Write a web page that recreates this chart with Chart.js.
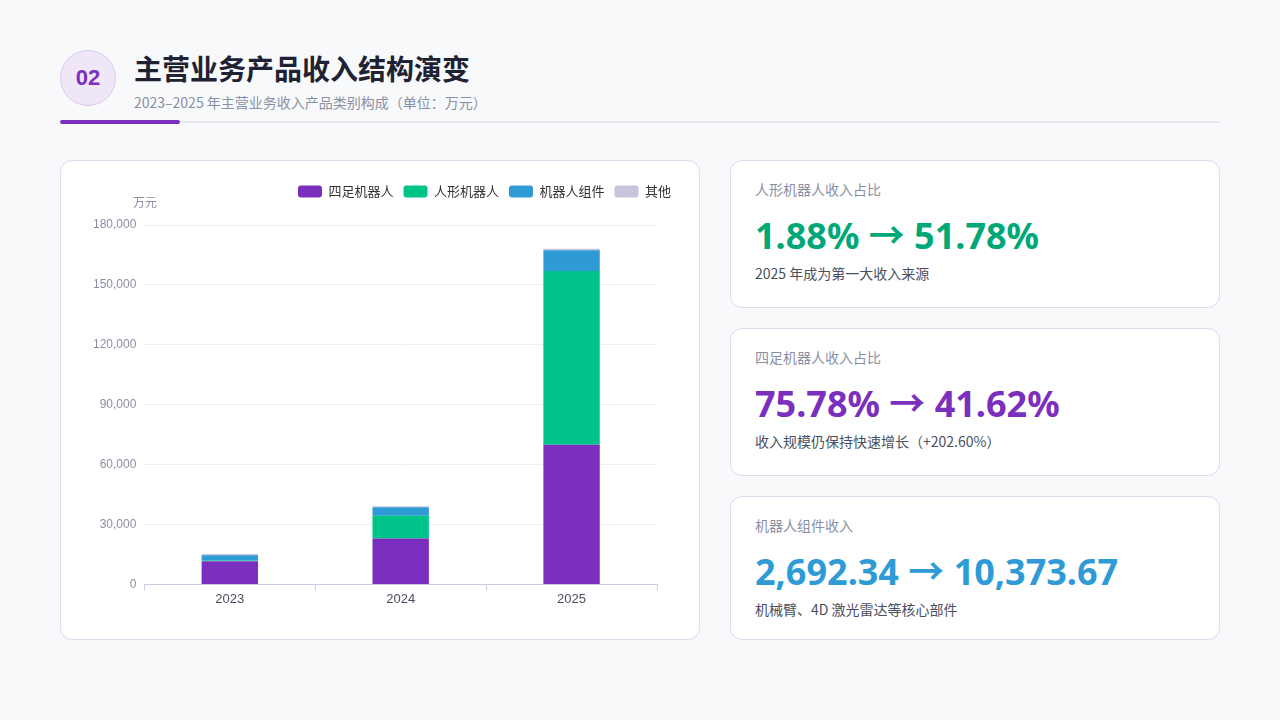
<!DOCTYPE html>
<html><head><meta charset="utf-8">
<script src="https://cdn.jsdelivr.net/npm/chart.js@4"></script>
<style>
body{margin:0;width:1280px;height:720px;background:#f8f9fb;font-family:"Noto Sans CJK SC","Noto Sans",sans-serif;position:relative;overflow:hidden}
.badge{position:absolute;left:60px;top:50px;width:56px;height:56px;border-radius:50%;background:#efe6f8;border:1px solid #dccbef;color:#7b2fbe;font-weight:700;font-size:22px;display:flex;align-items:center;justify-content:center;box-sizing:border-box;font-family:"Liberation Sans",sans-serif}
h1{position:absolute;left:134px;top:48px;margin:0;font-size:28px;color:#1f2233;font-weight:700}
.sub{position:absolute;left:134px;top:92px;font-size:14px;color:#8a8fa3}
.line{position:absolute;left:60px;top:121px;width:1160px;height:2px;background:#e6e7ee}
.line2{position:absolute;left:60px;top:120px;width:120px;height:4px;border-radius:2px;background:#7b2fbe}
.card{position:absolute;background:#fff;border:1px solid #dcdcec;border-radius:12px;box-sizing:border-box}
.k .t{position:absolute;left:24px;top:18px;font-size:14px;color:#8a8fa3}
.k .v{position:absolute;left:24px;top:46px;font-size:36px;font-weight:700;font-family:"Noto Sans","Noto Sans CJK SC",sans-serif}
.k .d{position:absolute;left:24px;top:102px;font-size:14px;color:#4a4f60}
</style></head><body>
<div class="badge">02</div>
<h1>主营业务产品收入结构演变</h1>
<div class="sub">2023–2025 年主营业务收入产品类别构成（单位：万元）</div>
<div class="line"></div><div class="line2"></div>
<div class="card" style="left:60px;top:160px;width:640px;height:480px">
  <canvas id="c" width="638" height="478" style="position:absolute;left:0;top:0"></canvas>
</div>
<div class="card k" style="left:730px;top:160px;width:490px;height:148px"><div class="t">人形机器人收入占比</div><div class="v" style="color:#00a878">1.88% → 51.78%</div><div class="d">2025 年成为第一大收入来源</div></div>
<div class="card k" style="left:730px;top:328px;width:490px;height:148px"><div class="t">四足机器人收入占比</div><div class="v" style="color:#7b2fbe">75.78% → 41.62%</div><div class="d">收入规模仍保持快速增长（+202.60%）</div></div>
<div class="card k" style="left:730px;top:496px;width:490px;height:144px"><div class="t">机器人组件收入</div><div class="v" style="color:#2e9bd6">2,692.34 → 10,373.67</div><div class="d">机械臂、4D 激光雷达等核心部件</div></div>
<script>
const years = ["2023", "2024", "2025"];
const quadruped = [11650, 23000, 69960];
const humanoid = [300, 11400, 87040];
const components = [2692.34, 4300, 10373.67];
const others = [600, 500, 700];
const yTicks = [0, 30000, 60000, 90000, 120000, 150000, 180000];

const tickFont = {family: '"Liberation Sans","Noto Sans CJK SC",sans-serif', size: 12};
const mk = (label, data, color) => ({label, data, backgroundColor: color, borderWidth: 0, barPercentage: 0.33, categoryPercentage: 1});

new Chart(document.getElementById("c"), {
  type: "bar",
  data: {
    labels: years,
    datasets: [
      mk("四足机器人", quadruped, "#7b2fbe"),
      mk("人形机器人", humanoid, "#00c389"),
      mk("机器人组件", components, "#2e9bd6"),
      mk("其他", others, "#c9c3dc")
    ]
  },
  options: {
    responsive: false,
    animation: false,
    layout: {padding: {left: 24, right: 18, top: 14, bottom: 31}},
    plugins: {
      legend: {position: "top", align: "end",
        labels: {font: {family: '"Noto Sans CJK SC",sans-serif', size: 13}, color: "#333", boxWidth: 24, boxHeight: 12, useBorderRadius: true, borderRadius: 3, padding: 10}},
      tooltip: {enabled: false}
    },
    scales: {
      x: {stacked: true, grid: {display: true, drawOnChartArea: false, tickLength: 6, color: "#cfc8e4"}, border: {color: "#cfc8e4"},
        ticks: {font: {...tickFont, size: 13}, color: "#4a4f60", padding: 1}},
      y: {stacked: true, min: 0, max: 180000, afterBuildTicks: s => { s.ticks = yTicks.map(v => ({value: v})); },
        grid: {color: "#eeeef5", drawTicks: false}, border: {display: false},
        ticks: {font: tickFont, color: "#8a8fa3", padding: 8, callback: v => v.toLocaleString("en-US")}},
      y2: {position: "right", display: true, grid: {display: false}, border: {display: false},
        ticks: {display: false}, afterFit: s => { s.width = 24; }}
    }
  },
  plugins: [{
    id: "legendGap",
    beforeInit(chart) {
      const fit = chart.legend.fit;
      chart.legend.fit = function () { fit.bind(chart.legend)(); this.height += 17; };
    },
    afterDraw(chart) {
      const ctx = chart.ctx, y = chart.scales.y;
      ctx.save(); ctx.font = '12px "Noto Sans CJK SC"'; ctx.fillStyle = "#8a8fa3"; ctx.textAlign = "center";
      ctx.fillText("万元", 84, y.top - 23); ctx.restore();
    }
  }]
});
</script>
</body></html>
